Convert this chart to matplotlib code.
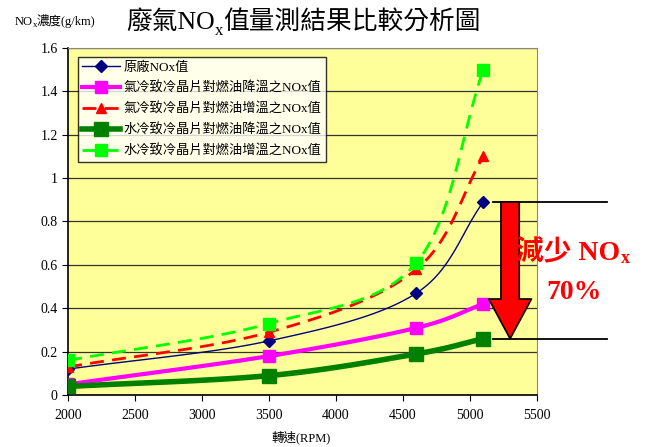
import numpy as np
import matplotlib
matplotlib.use('Agg')
import matplotlib.pyplot as plt

plt.rcParams['font.family'] = ['Liberation Serif', 'Noto Sans CJK TC']

rpm = [2000, 3500, 4600, 5100]
factory = [0.12, 0.25, 0.47, 0.89]
air_cool = [0.05, 0.18, 0.31, 0.42]
air_heat = [0.13, 0.29, 0.58, 1.10]
water_cool = [0.04, 0.09, 0.19, 0.26]
water_heat = [0.16, 0.33, 0.61, 1.50]

labels = ['原廠NOx值',
          '氣冷致冷晶片對燃油降溫之NOx值',
          '氣冷致冷晶片對燃油增溫之NOx值',
          '水冷致冷晶片對燃油降溫之NOx值',
          '水冷致冷晶片對燃油增溫之NOx值']

x_ticks = [2000, 2500, 3000, 3500, 4000, 4500, 5000, 5500]
y_ticks = [0, 0.2, 0.4, 0.6, 0.8, 1.0, 1.2, 1.4, 1.6]
y_ticklabels = ['0', '0.2', '0.4', '0.6', '0.8', '1', '1.2', '1.4', '1.6']


def smooth(xs, ys, n=40):
    # Catmull-Rom spline through the points
    p = np.column_stack([xs, ys]).astype(float)
    p = np.vstack([2 * p[0] - p[1], p, 2 * p[-1] - p[-2]])
    out = []
    t = np.linspace(0, 1, n)[:, None]
    for i in range(1, len(p) - 2):
        p0, p1, p2, p3 = p[i - 1], p[i], p[i + 1], p[i + 2]
        seg = 0.5 * ((2 * p1) + (-p0 + p2) * t
                     + (2 * p0 - 5 * p1 + 4 * p2 - p3) * t ** 2
                     + (-p0 + 3 * p1 - 3 * p2 + p3) * t ** 3)
        out.append(seg if i == 1 else seg[1:])
    out = np.vstack(out)
    return out[:, 0], out[:, 1]


fig = plt.figure(figsize=(6.62, 4.47), dpi=100)
ax = fig.add_axes([0.103, 0.116, 0.708, 0.777])
ax.set_facecolor('#FFFF99')

styles = [
    (factory, '#000080', '-', 1.0, 'D', 6),
    (air_cool, '#FF00FF', '-', 3.0, 's', 8),
    (air_heat, '#FF0000', (0, (5, 3)), 2.0, '^', 7),
    (water_cool, '#008000', '-', 4.0, 's', 10),
    (water_heat, '#00FF00', (0, (5, 3)), 2.0, 's', 8),
]
handles = []
for (vals, col, ls, lw, mk, ms), lab in zip(styles, labels):
    sx, sy = smooth(rpm, vals)
    ax.plot(sx, sy, color=col, ls=ls, lw=lw, zorder=3)
    ax.plot(rpm, vals, ls='none', marker=mk, ms=ms, color=col, zorder=4)
    h, = ax.plot([], [], color=col, ls=ls, lw=lw, marker=mk, ms=ms)
    handles.append(h)

ax.set_xlim(2000, 5500)
ax.set_ylim(0, 1.6)
ax.set_xticks(x_ticks)
ax.set_yticks(y_ticks)
ax.set_yticklabels(y_ticklabels)
ax.yaxis.grid(True, color='#333333', lw=0.9)
ax.set_axisbelow(True)
ax.tick_params(axis='x', direction='out', length=4, labelsize=10, pad=6)
ax.tick_params(axis='y', direction='out', length=4, labelsize=10)
for s in ['top', 'right']:
    ax.spines[s].set_color('#888888')
for s in ['left', 'bottom']:
    ax.spines[s].set_color('black')
    ax.spines[s].set_linewidth(1.2)

leg = ax.legend(handles, labels, loc='upper left', bbox_to_anchor=(0.02, 0.975),
                fontsize=9.5, frameon=True, fancybox=False, handlelength=2.9,
                borderpad=0.35, labelspacing=0.6, handletextpad=0.2,
                borderaxespad=0)
leg.get_frame().set_edgecolor('black')
leg.get_frame().set_linewidth(1.0)

fig.text(0.455, 0.022, '轉速(RPM)', fontsize=9, ha='center', va='center')

# reduction arrow between the factory and water-cooled readings at 5100 rpm
top, bot = factory[-1], water_cool[-1]
for yy in (top, bot):
    ax.plot([5170, 6020], [yy, yy], color='black', lw=1.3, clip_on=False, zorder=5)
ax.annotate('', xy=(5300, bot), xytext=(5300, top),
            arrowprops=dict(arrowstyle='simple,head_length=1.3,head_width=1.4,tail_width=0.6',
                            fc='#FF0000', ec='black', lw=1.2, mutation_scale=22,
                            shrinkA=0, shrinkB=0), zorder=6, annotation_clip=False)


def text_runs(x, y, runs, **kw):
    # place text pieces one after another, some of them lowered as subscripts
    fig.canvas.draw()
    r = fig.canvas.get_renderer()
    W, H = fig.bbox.width, fig.bbox.height
    cur = x
    for s, size, dy in runs:
        t = fig.text(cur, y + dy / H, s, fontsize=size, ha='left', va='baseline',
                     zorder=7, **kw)
        cur = t.get_window_extent(r).x1 / W


red = dict(color='#FF0000', fontweight='bold')
text_runs(0.780, 0.418, [('減少 NO', 20, 0), ('x', 13, -3)], **red)
text_runs(0.826, 0.33, [('70%', 20, 0)], **red)

text_runs(0.19, 0.935, [('廢氣NO', 18.5, 0), ('x', 12, -6), ('值量測結果比較分析圖', 18.5, 0)])
text_runs(0.022, 0.945, [('NO', 9, 0), ('x', 6.5, -2), ('濃度(g/km)', 9, 0)])

fig.savefig('out.png', dpi=100)
